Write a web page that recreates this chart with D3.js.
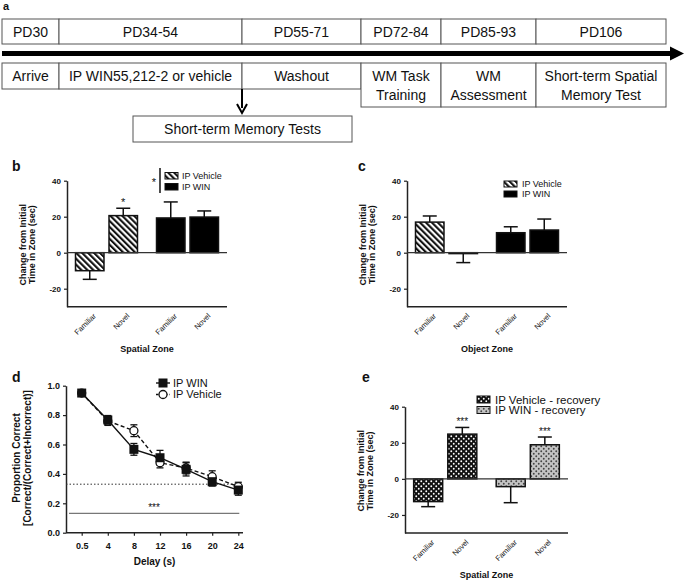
<!DOCTYPE html>
<html><head><meta charset="utf-8">
<script src="https://cdn.jsdelivr.net/npm/d3@7"></script>
<style>
body{margin:0;background:#fff}
svg{display:block}
text{font-family:"Liberation Sans",Arial,Helvetica,sans-serif;fill:#111}
</style>
</head><body>
<svg id="fig" width="685" height="580"></svg>
<script>
// ---------------- DATA ----------------
const timelineTop = ["PD30", "PD34-54", "PD55-71", "PD72-84", "PD85-93", "PD106"];
const timelineBottom = [["Arrive"], ["IP WIN55,212-2 or vehicle"], ["Washout"], ["WM Task", "Training"], ["WM", "Assessment"], ["Short-term Spatial", "Memory Test"]];
const subTestLabel = "Short-term Memory Tests";

const zoneCats = ["Familiar", "Novel"];
const barTicks = [40, 20, 0, -20];

// panel b (Spatial Zone)
const bVehicle = [-10, 20.6];
const bVehicleErr = [4.8, 4.1];
const bWin = [19.3, 19.8];
const bWinErr = [8.9, 3.4];

// panel c (Object Zone)
const cVehicle = [17.0, -0.5];
const cVehicleErr = [3.4, 5.0];
const cWin = [11.1, 12.6];
const cWinErr = [3.3, 6.1];

// panel d (delays)
const delays = ["0.5", "4", "8", "12", "16", "20", "24"];
const dWin = [0.95, 0.767, 0.567, 0.51, 0.431, 0.347, 0.29];
const dWinErr = [0.012, 0.03, 0.04, 0.05, 0.045, 0.03, 0.035];
const dVehicle = [0.95, 0.76, 0.694, 0.476, 0.44, 0.381, 0.313];
const dVehicleErr = [0.012, 0.03, 0.04, 0.035, 0.04, 0.04, 0.03];
const dTicks = [0, 0.2, 0.4, 0.6, 0.8, 1.0];
const chanceLevel = 0.33;
const sigLevel = 0.132;

// panel e (recovery)
const eVehicle = [-12.6, 24.8];
const eVehicleErr = [2.8, 3.7];
const eWin = [-4.3, 18.9];
const eWinErr = [8.9, 4.3];

// ---------------- DRAWING ----------------
const svg = d3.select("#fig");
const defs = svg.append("defs");

// diagonal hatch "\\\\"
const hatch = defs.append("pattern").attr("id", "hatch").attr("patternUnits", "userSpaceOnUse")
  .attr("width", 4.2).attr("height", 4.2).attr("patternTransform", "rotate(-45)");
hatch.append("rect").attr("width", 4.2).attr("height", 4.2).attr("fill", "#fff");
hatch.append("rect").attr("width", 2.1).attr("height", 4.2).attr("fill", "#111");

// black with white dots
const dotsB = defs.append("pattern").attr("id", "dotsBlack").attr("patternUnits", "userSpaceOnUse")
  .attr("width", 5).attr("height", 5);
dotsB.append("rect").attr("width", 5).attr("height", 5).attr("fill", "#111");
dotsB.append("circle").attr("cx", 1.25).attr("cy", 1.25).attr("r", 0.95).attr("fill", "#fff");
dotsB.append("circle").attr("cx", 3.75).attr("cy", 3.75).attr("r", 0.95).attr("fill", "#fff");

// gray with dark dots
const dotsG = defs.append("pattern").attr("id", "dotsGray").attr("patternUnits", "userSpaceOnUse")
  .attr("width", 5).attr("height", 5);
dotsG.append("rect").attr("width", 5).attr("height", 5).attr("fill", "#c4c4c4");
dotsG.append("circle").attr("cx", 1.25).attr("cy", 1.25).attr("r", 0.95).attr("fill", "#444");
dotsG.append("circle").attr("cx", 3.75).attr("cy", 3.75).attr("r", 0.95).attr("fill", "#444");

function panelLabel(t, x, y) {
  svg.append("text").attr("x", x).attr("y", y).attr("font-size", 14).attr("font-weight", "bold").text(t);
}

// ---------- Panel a: timeline ----------
(function () {
  const xs = [2, 59, 242, 361, 441, 536, 666];
  svg.append("text").attr("x", 3).attr("y", 10).attr("font-size", 11).attr("font-weight", "bold").text("a");
  const g = svg.append("g");
  timelineTop.forEach((t, i) => {
    g.append("rect").attr("x", xs[i]).attr("y", 19).attr("width", xs[i + 1] - xs[i]).attr("height", 25)
      .attr("fill", "#fff").attr("stroke", "#555").attr("stroke-width", 1);
    g.append("text").attr("x", (xs[i] + xs[i + 1]) / 2).attr("y", 32).attr("dy", "0.35em")
      .attr("text-anchor", "middle").attr("font-size", 14).text(t);
  });
  // main arrow
  g.append("line").attr("x1", 2).attr("x2", 672).attr("y1", 53.5).attr("y2", 53.5)
    .attr("stroke", "#000").attr("stroke-width", 5);
  g.append("path").attr("d", "M670,46.5 L684,53.5 L670,60.5 Z").attr("fill", "#000");
  timelineBottom.forEach((lines, i) => {
    const h = lines.length > 1 ? 44 : 26;
    g.append("rect").attr("x", xs[i]).attr("y", 63).attr("width", xs[i + 1] - xs[i]).attr("height", h)
      .attr("fill", "#fff").attr("stroke", "#555").attr("stroke-width", 1);
    lines.forEach((l, j) => {
      g.append("text").attr("x", (xs[i] + xs[i + 1]) / 2).attr("y", 76.5 + j * 18.5).attr("dy", "0.35em")
        .attr("text-anchor", "middle").attr("font-size", 14).text(l);
    });
  });
  // down arrow to sub box
  g.append("line").attr("x1", 242).attr("x2", 242).attr("y1", 89).attr("y2", 108)
    .attr("stroke", "#000").attr("stroke-width", 2);
  g.append("path").attr("d", "M237,104 L242,113 L247,104").attr("fill", "none").attr("stroke", "#000").attr("stroke-width", 2);
  g.append("rect").attr("x", 133).attr("y", 116).attr("width", 219).attr("height", 26)
    .attr("fill", "#fff").attr("stroke", "#555").attr("stroke-width", 1);
  g.append("text").attr("x", 242.5).attr("y", 129).attr("dy", "0.35em").attr("text-anchor", "middle")
    .attr("font-size", 14).text(subTestLabel);
})();

// ---------- generic bar panel ----------
function barPanel(o) {
  const g = svg.append("g");
  const y = d3.scaleLinear().domain([-30, 40]).range([o.bottom, o.top]);
  const outer = d3.scaleBand().domain(o.series.map(s => s.name)).range([o.left, o.right])
    .paddingInner(0.235).paddingOuter(0.105);
  const inner = d3.scaleBand().domain(zoneCats).range([0, outer.bandwidth()]).paddingInner(0.15);

  // axes
  const ax = g.append("g").attr("transform", `translate(${o.left},0)`)
    .call(d3.axisLeft(y).tickValues(barTicks).tickSize(3).tickSizeOuter(0).tickFormat(d => String(d)));
  ax.select(".domain").attr("stroke", "#222").attr("stroke-width", 1.5);
  ax.selectAll(".tick line").attr("stroke", "#222").attr("stroke-width", 1.2);
  ax.selectAll(".tick text").attr("font-size", 8).attr("font-weight", "bold")
    .attr("font-family", '"Liberation Sans",Arial,sans-serif').attr("fill", "#111");
  g.append("line").attr("x1", o.left).attr("x2", o.right).attr("y1", y(-30)).attr("y2", y(-30))
    .attr("stroke", "#222").attr("stroke-width", 1.5);

  // bars
  o.series.forEach(s => {
    zoneCats.forEach((c, i) => {
      const v = s.values[i], e = s.errs[i];
      const bx = outer(s.name) + inner(c), bw = inner.bandwidth(), cx = bx + bw / 2;
      const sgn = v >= 0 ? 1 : -1;
      // error bar
      g.append("line").attr("x1", cx).attr("x2", cx).attr("y1", y(v)).attr("y2", y(v + sgn * e))
        .attr("stroke", "#111").attr("stroke-width", 1.5);
      g.append("line").attr("x1", cx - 7).attr("x2", cx + 7).attr("y1", y(v + sgn * e)).attr("y2", y(v + sgn * e))
        .attr("stroke", "#111").attr("stroke-width", 1.5);
      g.append("rect").attr("x", bx).attr("width", bw)
        .attr("y", Math.min(y(v), y(0))).attr("height", Math.abs(y(v) - y(0)))
        .attr("fill", s.fill).attr("stroke", "#111").attr("stroke-width", 1.5);
      if (s.stars && s.stars[i]) {
        g.append("text").attr("x", cx).attr("y", y(v + sgn * e) - 2.5).attr("text-anchor", "middle")
          .attr("font-size", s.starSize || 11).attr("fill", "#222").text(s.stars[i]);
      }
      // category label
      g.append("text").attr("transform", `translate(${cx + 3},${o.bottom + 6}) rotate(-45)`)
        .attr("text-anchor", "end").attr("dy", "0.7em").attr("font-size", 7.5).text(c);
    });
  });
  // zero line
  g.append("line").attr("x1", o.left).attr("x2", o.right).attr("y1", y(0)).attr("y2", y(0))
    .attr("stroke", "#333").attr("stroke-width", 1.2);

  // titles
  g.append("text").attr("x", (o.left + o.right) / 2).attr("y", o.bottom + 45).attr("text-anchor", "middle")
    .attr("font-size", 9).attr("font-weight", "bold").text(o.xTitle);
  const yc = (o.top + o.bottom) / 2 + 1;
  ["Change from Initial", "Time in Zone (sec)"].forEach((t, j) => {
    g.append("text").attr("transform", `translate(${o.left - 41 + j * 9},${yc}) rotate(-90)`)
      .attr("text-anchor", "middle").attr("font-size", 9).attr("font-weight", "bold").text(t);
  });
  return { g, y };
}

// ---------- Panel b ----------
panelLabel("b", 12, 171);
(function () {
  const p = barPanel({
    left: 67, right: 227, top: 180.7, bottom: 306.7, xTitle: "Spatial Zone",
    series: [
      { name: "IP Vehicle", values: bVehicle, errs: bVehicleErr, fill: "url(#hatch)", stars: ["", "*"] },
      { name: "IP WIN", values: bWin, errs: bWinErr, fill: "#000" }
    ]
  });
  const g = p.g;
  [["IP Vehicle", "url(#hatch)"], ["IP WIN", "#000"]].forEach((d, j) => {
    g.append("rect").attr("x", 165).attr("y", 172.5 + j * 11).attr("width", 13).attr("height", 6.5)
      .attr("fill", d[1]).attr("stroke", "#111").attr("stroke-width", 1);
    g.append("text").attr("x", 182).attr("y", 176 + j * 11).attr("dy", "0.35em").attr("font-size", 9).text(d[0]);
  });
  g.append("line").attr("x1", 160).attr("x2", 160).attr("y1", 168).attr("y2", 193).attr("stroke", "#111").attr("stroke-width", 1.5);
  g.append("text").attr("x", 154).attr("y", 186).attr("text-anchor", "middle").attr("font-size", 11).text("*");
})();

// ---------- Panel c ----------
panelLabel("c", 358, 171);
(function () {
  const p = barPanel({
    left: 407, right: 567, top: 180.7, bottom: 306.7, xTitle: "Object Zone",
    series: [
      { name: "IP Vehicle", values: cVehicle, errs: cVehicleErr, fill: "url(#hatch)" },
      { name: "IP WIN", values: cWin, errs: cWinErr, fill: "#000" }
    ]
  });
  const g = p.g;
  [["IP Vehicle", "url(#hatch)"], ["IP WIN", "#000"]].forEach((d, j) => {
    g.append("rect").attr("x", 504).attr("y", 181 + j * 10).attr("width", 13).attr("height", 6)
      .attr("fill", d[1]).attr("stroke", "#111").attr("stroke-width", 1);
    g.append("text").attr("x", 522).attr("y", 184 + j * 10).attr("dy", "0.35em").attr("font-size", 9).text(d[0]);
  });
})();

// ---------- Panel d ----------
panelLabel("d", 12, 382);
(function () {
  const g = svg.append("g");
  const left = 66, right = 243, top = 385.7, bottom = 532.7;
  const y = d3.scaleLinear().domain([0, 1]).range([bottom, top]);
  const x = d3.scalePoint().domain(delays).range([81.7, 238.3]);

  const ay = g.append("g").attr("transform", `translate(${left},0)`)
    .call(d3.axisLeft(y).tickValues(dTicks).tickSize(3).tickSizeOuter(0).tickFormat(d3.format(".1f")));
  ay.select(".domain").attr("stroke", "#222").attr("stroke-width", 1.5);
  ay.selectAll(".tick line").attr("stroke", "#222").attr("stroke-width", 1.2);
  ay.selectAll(".tick text").attr("font-size", 9).attr("font-weight", "bold")
    .attr("font-family", '"Liberation Sans",Arial,sans-serif').attr("fill", "#111");

  g.append("line").attr("x1", left).attr("x2", right).attr("y1", bottom).attr("y2", bottom)
    .attr("stroke", "#222").attr("stroke-width", 1.5);
  const ax = g.append("g").attr("transform", `translate(0,${bottom})`)
    .call(d3.axisBottom(x).tickSize(3).tickSizeOuter(0));
  ax.select(".domain").remove();
  ax.selectAll(".tick line").attr("stroke", "#222").attr("stroke-width", 1.2);
  ax.selectAll(".tick text").attr("font-size", 9).attr("font-weight", "bold").attr("dy", "1.1em")
    .attr("font-family", '"Liberation Sans",Arial,sans-serif').attr("fill", "#111");

  // reference lines
  g.append("line").attr("x1", left).attr("x2", x(delays[delays.length - 1])).attr("y1", y(chanceLevel)).attr("y2", y(chanceLevel))
    .attr("stroke", "#333").attr("stroke-width", 1).attr("stroke-dasharray", "1.5,2");
  g.append("line").attr("x1", left + 3).attr("x2", x(delays[delays.length - 1]) + 1).attr("y1", y(sigLevel)).attr("y2", y(sigLevel))
    .attr("stroke", "#777").attr("stroke-width", 1.3);
  g.append("text").attr("x", 154).attr("y", y(sigLevel) - 2).attr("text-anchor", "middle")
    .attr("font-size", 10).attr("fill", "#666").text("***");

  const line = d3.line().x((d, i) => x(delays[i])).y(d => y(d));
  // vehicle
  g.append("path").attr("d", line(dVehicle)).attr("fill", "none").attr("stroke", "#111")
    .attr("stroke-width", 1.4).attr("stroke-dasharray", "4,2.5");
  // WIN
  g.append("path").attr("d", line(dWin)).attr("fill", "none").attr("stroke", "#111").attr("stroke-width", 1.4);

  function errs(vals, es) {
    vals.forEach((v, i) => {
      const cx = x(delays[i]);
      g.append("line").attr("x1", cx).attr("x2", cx).attr("y1", y(v - es[i])).attr("y2", y(v + es[i]))
        .attr("stroke", "#111").attr("stroke-width", 1.3);
      [v - es[i], v + es[i]].forEach(e => g.append("line").attr("x1", cx - 3.5).attr("x2", cx + 3.5)
        .attr("y1", y(e)).attr("y2", y(e)).attr("stroke", "#111").attr("stroke-width", 1.3));
    });
  }
  errs(dVehicle, dVehicleErr);
  errs(dWin, dWinErr);
  dVehicle.forEach((v, i) => g.append("circle").attr("cx", x(delays[i])).attr("cy", y(v)).attr("r", 4)
    .attr("fill", "#fff").attr("stroke", "#111").attr("stroke-width", 1.3));
  dWin.forEach((v, i) => g.append("rect").attr("x", x(delays[i]) - 4.5).attr("y", y(v) - 4.5)
    .attr("width", 9).attr("height", 9).attr("fill", "#111"));

  // legend
  g.append("line").attr("x1", 156).attr("x2", 170).attr("y1", 383).attr("y2", 383).attr("stroke", "#111").attr("stroke-width", 1.4);
  g.append("rect").attr("x", 158.5).attr("y", 378.5).attr("width", 9).attr("height", 9).attr("fill", "#111");
  g.append("text").attr("x", 173).attr("y", 383).attr("dy", "0.35em").attr("font-size", 11).text("IP WIN");
  g.append("line").attr("x1", 156).attr("x2", 170).attr("y1", 394.5).attr("y2", 394.5).attr("stroke", "#111")
    .attr("stroke-width", 1.4).attr("stroke-dasharray", "2.5,2");
  g.append("circle").attr("cx", 163).attr("cy", 394.5).attr("r", 4).attr("fill", "#fff").attr("stroke", "#111").attr("stroke-width", 1.3);
  g.append("text").attr("x", 173).attr("y", 394.5).attr("dy", "0.35em").attr("font-size", 11).text("IP Vehicle");

  // titles
  g.append("text").attr("x", (left + right) / 2).attr("y", 565).attr("text-anchor", "middle")
    .attr("font-size", 10).attr("font-weight", "bold").text("Delay (s)");
  ["Proportion Correct", "[Correct/(Correct+Incorrect)]"].forEach((t, j) => {
    g.append("text").attr("transform", `translate(${20 + j * 11},${458}) rotate(-90)`)
      .attr("text-anchor", "middle").attr("font-size", 10).attr("font-weight", "bold").text(t);
  });
})();

// ---------- Panel e ----------
panelLabel("e", 362, 382);
(function () {
  const p = barPanel({
    left: 405, right: 568, top: 406.7, bottom: 533, xTitle: "Spatial Zone",
    series: [
      { name: "IP Vehicle - recovery", values: eVehicle, errs: eVehicleErr, fill: "url(#dotsBlack)", stars: ["", "***"], starSize: 10 },
      { name: "IP WIN - recovery", values: eWin, errs: eWinErr, fill: "url(#dotsGray)", stars: ["", "***"], starSize: 10 }
    ]
  });
  const g = p.g;
  [["IP Vehicle - recovery", "url(#dotsBlack)"], ["IP WIN - recovery", "url(#dotsGray)"]].forEach((d, j) => {
    g.append("rect").attr("x", 477).attr("y", 396 + j * 10.5).attr("width", 13).attr("height", 7)
      .attr("fill", d[1]).attr("stroke", "#111").attr("stroke-width", 1);
    g.append("text").attr("x", 495).attr("y", 399.5 + j * 10.5).attr("dy", "0.35em").attr("font-size", 11.5).text(d[0]);
  });
})();
</script>
</body></html>
